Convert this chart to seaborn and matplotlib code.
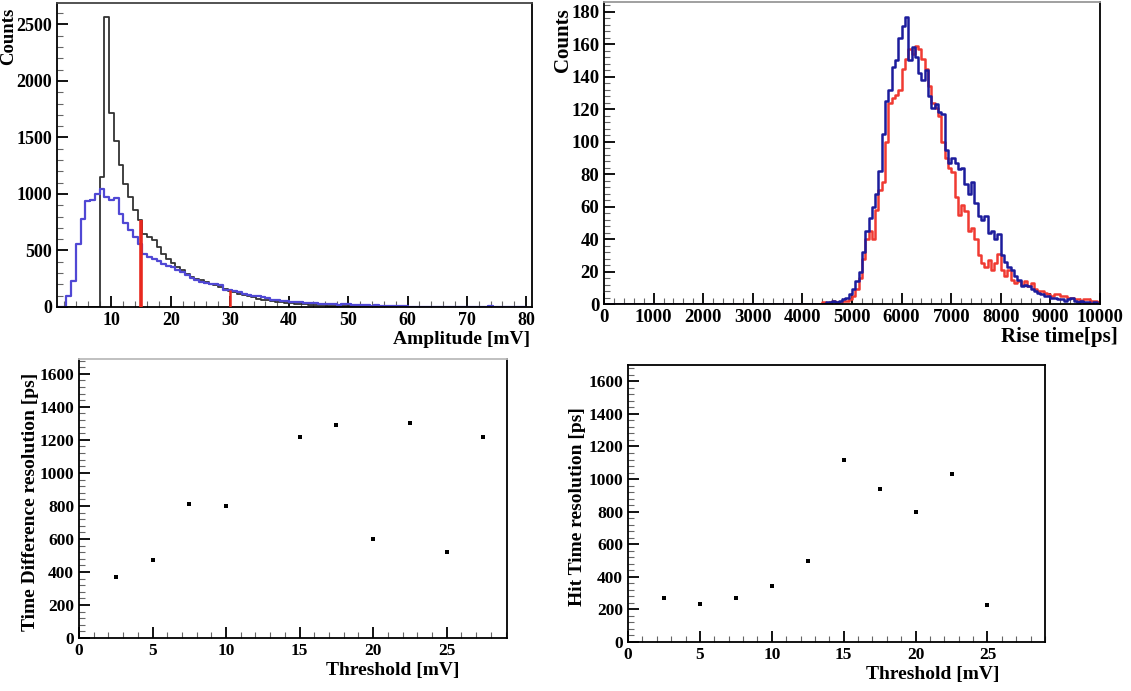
import numpy as np
import pandas as pd
import matplotlib
matplotlib.use("Agg")
import matplotlib.pyplot as plt
from matplotlib.ticker import MultipleLocator
import seaborn as sns

# ---------------- data ----------------
# Amplitude histogram (bins of 0.8 mV from 0 to 80 mV)
amp_bin_width = 0.8
amp_range = (0.0, 80.0)
amp_blue = [0, 0, 0, 95, 230, 560, 780, 940, 945, 1000,
            1040, 975, 945, 965, 825, 745, 680, 620, 560, 472,
            442, 427, 404, 383, 362, 354, 330, 309, 280, 259,
            242, 221, 212, 200, 206, 192, 153, 147, 141, 130,
            118, 109, 100, 94, 88, 80, 65, 60, 55, 50,
            48, 45, 40, 38, 35, 33, 30, 28, 26, 25,
            22, 24, 28, 20, 18, 15, 14, 12, 15, 10,
            9, 12, 8, 6, 5, 4, 3, 2, 3, 2,
            1, 2, 1, 0, 1, 0, 0, 1, 0, 0,
            1, 0, 8, 0, 0, 0, 0, 0, 0, 0]
amp_black = [0, 0, 0, 0, 0, 0, 0, 0, 0, 0,
             1150, 2570, 1720, 1470, 1260, 1085, 973, 855, 767, 650,
             619, 590, 530, 472, 428, 386, 355, 324, 295, 265,
             250, 236, 221, 206, 192, 177, 162, 140, 130, 115,
             105, 95, 85, 75, 65, 58, 50, 45, 40, 36,
             32, 29, 26, 23, 20, 18, 16, 14, 12, 11,
             10, 9, 8, 7, 6, 5, 5, 4, 4, 3,
             3, 2, 2, 2, 1, 1, 0, 0, 0, 0,
             0, 0, 0, 0, 0, 0, 0, 0, 0, 0,
             0, 0, 0, 0, 0, 0, 0, 0, 0, 0]
cut_positions = [15, 30]
cut_heights = [767, 150]

# Rise time histogram (150 bins from 0 to 10000 ps)
rise_range = (0.0, 10000.0)
rise_nbins = 150
rise_blue = [0] * 66 + [
    0, 1, 1, 2, 1, 2, 3, 4, 6, 9,
    14, 20, 32, 45, 53, 60, 68, 82, 105, 125,
    132, 146, 150, 164, 171, 177, 150, 158, 152, 142,
    138, 144, 128, 121, 123, 118, 117, 95, 87, 90,
    87, 83, 84, 74, 68, 75, 62, 54, 52, 54,
    44, 45, 40, 43, 30, 26, 23, 21, 17, 15,
    11, 12, 11, 9, 8, 7, 6, 5, 5, 4,
    4, 3, 3, 2, 3, 4, 2, 1, 2, 1,
    1, 0, 1, 0]
rise_red = [0] * 66 + [
    1, 0, 1, 2, 1, 1, 2, 2, 3, 5,
    9, 16, 28, 40, 45, 40, 58, 70, 75, 100,
    124, 127, 129, 132, 145, 151, 157, 154, 159, 157,
    151, 145, 134, 124, 121, 116, 100, 90, 84, 81,
    66, 55, 61, 57, 45, 47, 40, 30, 25, 23,
    27, 21, 25, 31, 21, 17, 21, 15, 13, 14,
    12, 14, 11, 13, 9, 8, 8, 7, 6, 5,
    6, 6, 5, 5, 4, 4, 3, 3, 2, 3,
    3, 2, 2, 1]

# Resolution vs threshold
thr_td = [2.5, 5, 7.5, 10, 15, 17.5, 20, 22.5, 25, 27.5]
res_td = [370, 475, 810, 800, 1220, 1290, 600, 1305, 520, 1220]
thr_hit = [2.5, 5, 7.5, 10, 12.5, 15, 17.5, 20, 22.5, 25]
res_hit = [270, 235, 270, 345, 500, 1120, 940, 795, 1030, 225]

# ---------------- style ----------------
sns.set_theme(style="ticks")
plt.rcParams['font.family'] = ['Liberation Serif', 'DejaVu Serif']
plt.rcParams['font.weight'] = 'bold'
plt.rcParams['axes.labelweight'] = 'bold'
plt.rcParams['text.color'] = 'black'
plt.rcParams['axes.labelcolor'] = 'black'
plt.rcParams['xtick.color'] = 'black'
plt.rcParams['ytick.color'] = 'black'
plt.rcParams['xtick.labelcolor'] = 'black'
plt.rcParams['ytick.labelcolor'] = 'black'

fig = plt.figure(figsize=(11.31, 6.91), dpi=100)
W, H = 1131, 691


def add_axes(l, r, t, b):
    return fig.add_axes([l / W, (H - b) / H, (r - l) / W, (b - t) / H])


ax1 = add_axes(57, 532, 3, 307)
ax2 = add_axes(604, 1100, 2, 304)
ax3 = add_axes(79, 507, 359, 638)
ax4 = add_axes(628, 1045, 365, 642)


def style_axes(ax, top_color='black'):
    for s in ['left', 'bottom', 'right']:
        ax.spines[s].set_visible(True)
        ax.spines[s].set_color('black')
        ax.spines[s].set_linewidth(1.3)
    ax.spines['top'].set_visible(True)
    ax.spines['top'].set_color(top_color)
    ax.spines['top'].set_linewidth(1.3)
    ax.tick_params(which='major', direction='in', length=8, width=1.3,
                   labelsize=13, top=False, right=False, color='black',
                   labelcolor='black')
    ax.tick_params(which='minor', direction='in', length=4, width=0.8,
                   top=False, right=False, color='#666666')
    ax.set_facecolor('white')


# ---- Panel 1: amplitude ----
amp_edges = list(np.arange(amp_range[0], amp_range[1] + amp_bin_width / 2, amp_bin_width))
amp_centers = [(a + b) / 2 for a, b in zip(amp_edges[:-1], amp_edges[1:])]
df_amp = pd.DataFrame({'amp': amp_centers, 'blue': amp_blue, 'black': amp_black})
sns.histplot(data=df_amp, x='amp', weights='black', bins=amp_edges, element='step',
             fill=False, color='#333333', linewidth=1.3, ax=ax1)
sns.histplot(data=df_amp, x='amp', weights='blue', bins=amp_edges, element='step',
             fill=False, color='#5048d4', linewidth=1.6, ax=ax1)
ax1.vlines(cut_positions, 0, cut_heights, colors='#e8281e', linewidths=[2.6, 1.8], zorder=5)
ax1.set_xlim(0.8, 81)
ax1.set_ylim(0, 2690)
ax1.xaxis.set_major_locator(MultipleLocator(10))
ax1.xaxis.set_minor_locator(MultipleLocator(2))
ax1.yaxis.set_major_locator(MultipleLocator(500))
ax1.yaxis.set_minor_locator(MultipleLocator(100))
style_axes(ax1, top_color='#444444')
ax1.set_xlabel('Amplitude [mV]', fontsize=14, fontweight='bold', ha='right', va='center')
ax1.xaxis.set_label_coords(0.996, -0.108)
ax1.set_ylabel('Counts', fontsize=13.5, fontweight='bold')
ax1.yaxis.set_label_coords(-0.101, 0.985)
ax1.yaxis.label.set_va('center')
ax1.yaxis.label.set_ha('right')

# ---- Panel 2: rise time ----
rise_edges = list(np.linspace(rise_range[0], rise_range[1], rise_nbins + 1))
rise_centers = [(a + b) / 2 for a, b in zip(rise_edges[:-1], rise_edges[1:])]
df_rise = pd.DataFrame({'rt': rise_centers, 'blue': rise_blue, 'red': rise_red})
sns.histplot(data=df_rise, x='rt', weights='red', bins=rise_edges, element='step',
             fill=False, color='#f03a32', linewidth=1.8, ax=ax2)
sns.histplot(data=df_rise, x='rt', weights='blue', bins=rise_edges, element='step',
             fill=False, color='#1c1c9c', linewidth=1.8, ax=ax2)
ax2.set_xlim(0, 10000)
ax2.set_ylim(0, 186)
ax2.xaxis.set_major_locator(MultipleLocator(1000))
ax2.xaxis.set_minor_locator(MultipleLocator(200))
ax2.yaxis.set_major_locator(MultipleLocator(20))
ax2.yaxis.set_minor_locator(MultipleLocator(4))
style_axes(ax2, top_color='#999999')
ax2.tick_params(which='major', labelsize=13.5)
ax2.set_xlabel('Rise time[ps]', fontsize=15, fontweight='bold', ha='right', va='center')
ax2.xaxis.set_label_coords(1.036, -0.108)
ax2.set_ylabel('Counts', fontsize=15, fontweight='bold')
ax2.yaxis.set_label_coords(-0.083, 0.98)
ax2.yaxis.label.set_va('center')
ax2.yaxis.label.set_ha('right')

# ---- Panel 3: time difference resolution ----
sns.scatterplot(x=thr_td, y=res_td, marker='s', s=9, color='black', linewidth=0, ax=ax3)
ax3.set_xlim(0, 29.1)
ax3.set_ylim(0, 1690)
ax3.xaxis.set_major_locator(MultipleLocator(5))
ax3.xaxis.set_minor_locator(MultipleLocator(1))
ax3.yaxis.set_major_locator(MultipleLocator(200))
ax3.yaxis.set_minor_locator(MultipleLocator(40))
style_axes(ax3, top_color='#bbbbbb')
ax3.tick_params(which='major', labelsize=12.5)
ax3.set_xlabel('Threshold [mV]', fontsize=14, fontweight='bold', ha='right', va='center')
ax3.xaxis.set_label_coords(0.888, -0.115)
ax3.set_ylabel('Time Difference resolution [ps]', fontsize=14, fontweight='bold', va='center')
ax3.yaxis.set_label_coords(-0.114, 0.487)

# ---- Panel 4: hit time resolution ----
sns.scatterplot(x=thr_hit, y=res_hit, marker='s', s=9, color='black', linewidth=0, ax=ax4)
ax4.set_xlim(0, 29)
ax4.set_ylim(0, 1700)
ax4.xaxis.set_major_locator(MultipleLocator(5))
ax4.xaxis.set_minor_locator(MultipleLocator(1))
ax4.yaxis.set_major_locator(MultipleLocator(200))
ax4.yaxis.set_minor_locator(MultipleLocator(40))
style_axes(ax4)
ax4.tick_params(which='major', labelsize=12.5)
ax4.set_xlabel('Threshold [mV]', fontsize=14, fontweight='bold', ha='right', va='center')
ax4.xaxis.set_label_coords(0.892, -0.119)
ax4.set_ylabel('Hit Time resolution [ps]', fontsize=14, fontweight='bold', va='center')
ax4.yaxis.set_label_coords(-0.12, 0.49)

fig.savefig('out.png', dpi=100, facecolor='white')
